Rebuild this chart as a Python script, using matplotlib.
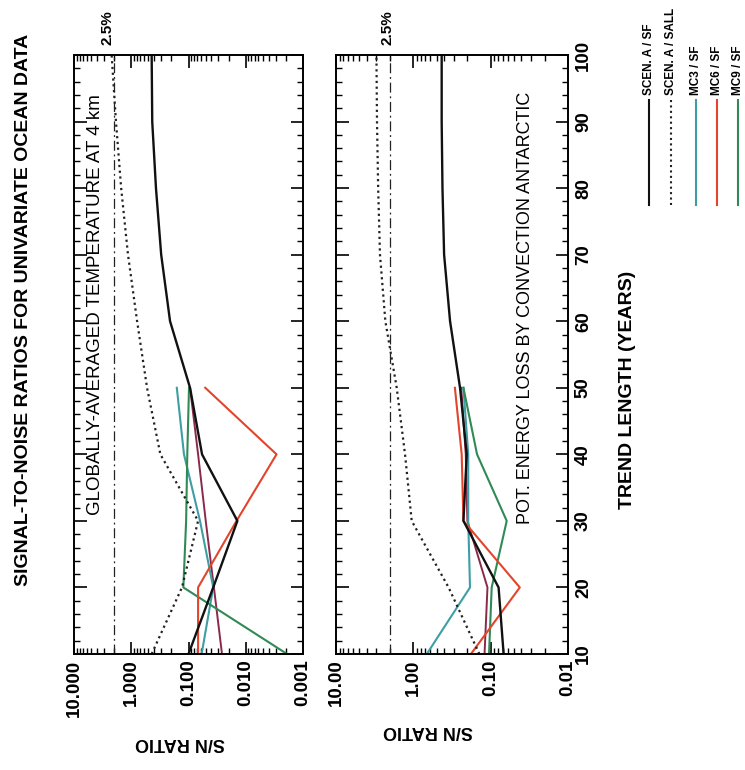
import numpy as np
import matplotlib
matplotlib.use("Agg")
import matplotlib.pyplot as plt
from matplotlib.lines import Line2D
from matplotlib.ticker import LogLocator, MultipleLocator, FixedLocator, FixedFormatter, NullFormatter

plt.rcParams['font.family'] = ['Liberation Sans', 'DejaVu Sans']

# trend lengths (years)
years_long = [10, 20, 30, 40, 50, 60, 70, 80, 90, 100]
years_short = [10, 20, 30, 40, 50]

# panel 1: globally-averaged temperature at 4 km
temp_scen_sf = [0.10, 0.037, 0.014, 0.058, 0.094, 0.21, 0.30, 0.37, 0.43, 0.44]
temp_scen_sall = [0.44, 0.13, 0.068, 0.31, 0.53, 0.79, 1.14, 1.5, 1.85, 2.2]
temp_mc3 = [0.059, 0.037, 0.063, 0.12, 0.16]
temp_mc6 = [0.068, 0.068, 0.0145, 0.0029, 0.051]
temp_mc9 = [0.0019, 0.123, 0.11, 0.105, 0.098]
temp_extra = [0.026, 0.036, 0.050, 0.068, 0.094]

# panel 2: pot. energy loss by convection antarctic
pe_scen_sf = [0.068, 0.079, 0.225, 0.204, 0.249, 0.335, 0.40, 0.42, 0.43, 0.43]
pe_scen_sall = [0.14, 0.35, 1.05, 1.28, 1.64, 2.3, 2.7, 2.85, 2.95, 3.0]
pe_mc3 = [0.67, 0.185, 0.195, 0.195, 0.225]
pe_mc6 = [0.18, 0.042, 0.225, 0.237, 0.29]
pe_mc9 = [0.105, 0.097, 0.062, 0.15, 0.225]
pe_extra = [0.12, 0.11, 0.20, 0.21, 0.24]

sig_level = 2.0  # 2.5% significance level

legend_labels = ["SCEN. A / SF", "SCEN. A / SALL", "MC3 / SF", "MC6 / SF", "MC9 / SF"]
c_teal = '#3f9ea4'
c_red = '#e2452c'
c_green = '#2f8a55'
c_extra = '#8a2a4a'

W, H = 745, 770
fig = plt.figure(figsize=(W / 100, H / 100), dpi=100)


def fx(px):
    return px / W


def fy(py):
    return 1 - py / H


ax1 = fig.add_axes([fx(74), fy(654), fx(303) - fx(74), fy(55) - fy(654)])
ax2 = fig.add_axes([fx(336), fy(654), fx(568) - fx(336), fy(55) - fy(654)])


def draw_panel(ax, sf, sall, mc3, mc6, mc9, extra, xlim, ticks, ticklabels):
    ax.plot(extra, years_short, color=c_extra, lw=1.4)
    ax.plot(mc3, years_short, color=c_teal, lw=1.5)
    ax.plot(mc9, years_short, color=c_green, lw=1.5)
    ax.plot(mc6, years_short, color=c_red, lw=1.5)
    ax.plot(sall, years_long, color='#222222', lw=1.6, ls=(0, (1, 1.6)))
    ax.plot(sf, years_long, color='#111111', lw=1.7)
    ax.plot([sig_level] * 2, [10, 100], color='#222222', lw=0.9, ls=(0, (8, 3, 1.5, 3)))
    ax.set_xscale('log')
    ax.set_xlim(*xlim)
    ax.set_ylim(10, 100)
    ax.xaxis.set_major_locator(FixedLocator(ticks))
    ax.xaxis.set_major_formatter(FixedFormatter(ticklabels))
    ax.xaxis.set_minor_locator(LogLocator(base=10, subs=np.arange(2, 10)))
    ax.xaxis.set_minor_formatter(NullFormatter())
    ax.yaxis.set_major_locator(MultipleLocator(10))
    ax.yaxis.set_minor_locator(MultipleLocator(2))
    ax.tick_params(which='both', direction='in', top=True, right=True, left=True, bottom=True)
    ax.tick_params(which='major', length=9, width=1.2)
    ax.tick_params(which='minor', length=4.5, width=1.0)
    ax.tick_params(axis='x', labelsize=13.5, labelrotation=90, pad=4)
    for lab in ax.get_xticklabels():
        lab.set_fontweight('bold')
    ax.set_yticklabels([])
    for s in ax.spines.values():
        s.set_linewidth(1.4)


draw_panel(ax1, temp_scen_sf, temp_scen_sall, temp_mc3, temp_mc6, temp_mc9, temp_extra,
           (10, 0.001), [10, 1, 0.1, 0.01, 0.001], ["10.000", "1.000", "0.100", "0.010", "0.001"])
draw_panel(ax2, pe_scen_sf, pe_scen_sall, pe_mc3, pe_mc6, pe_mc9, pe_extra,
           (10, 0.01), [10, 1, 0.1, 0.01], ["10.00", "1.00", "0.10", "0.01"])

# right-hand trend length labels on second panel
ax2.yaxis.set_major_formatter(FixedFormatter([str(v) for v in range(10, 101, 10)]))
ax2.yaxis.set_major_locator(FixedLocator(list(range(10, 101, 10))))
ax2.tick_params(axis='y', labelleft=False, labelright=True, labelsize=13.5, labelrotation=90, pad=5)
for lab in ax2.get_yticklabels():
    lab.set_fontweight('bold')
    lab.set_va('center')

ax1.text(0.092, 0.583, "GLOBALLY-AVERAGED TEMPERATURE AT 4 km", transform=ax1.transAxes,
         rotation=90, ha='center', va='center', fontsize=13.5)
ax2.text(0.815, 0.578, "POT. ENERGY LOSS BY CONVECTION ANTARCTIC", transform=ax2.transAxes,
         rotation=90, ha='center', va='center', fontsize=13)

fig.text(fx(180), fy(742), "S/N RATIO", rotation=180, ha='center', va='center',
         fontsize=13, fontweight='bold')
fig.text(fx(428), fy(730), "S/N RATIO", rotation=180, ha='center', va='center',
         fontsize=13, fontweight='bold')

fig.text(fx(108), fy(28), "2.5%", rotation=90, ha='center', va='center', fontsize=11, fontweight='bold')
fig.text(fx(388), fy(28), "2.5%", rotation=90, ha='center', va='center', fontsize=11, fontweight='bold')

fig.text(fx(628), fy(390), "TREND LENGTH (YEARS)", rotation=90, ha='center', va='center',
         fontsize=14, fontweight='bold')

fig.text(fx(24), fy(310), "SIGNAL-TO-NOISE RATIOS FOR UNIVARIATE OCEAN DATA", rotation=90,
         ha='center', va='center', fontsize=14, fontweight='bold')

# legend, drawn rotated like the rest of the page
leg_x = [649, 671, 696, 717, 738]
leg_styles = [dict(color='#111111', ls='-'), dict(color='#222222', ls=(0, (1, 1.6))),
              dict(color=c_teal, ls='-'), dict(color=c_red, ls='-'), dict(color=c_green, ls='-')]
for x, lab, st in zip(leg_x, legend_labels, leg_styles):
    fig.add_artist(Line2D([fx(x), fx(x)], [fy(100), fy(205)], lw=1.5, **st))
    fig.text(fx(x), fy(95), lab, rotation=90, ha='center', va='bottom', fontsize=8.5, fontweight='bold')

fig.savefig("out.png", dpi=100)
